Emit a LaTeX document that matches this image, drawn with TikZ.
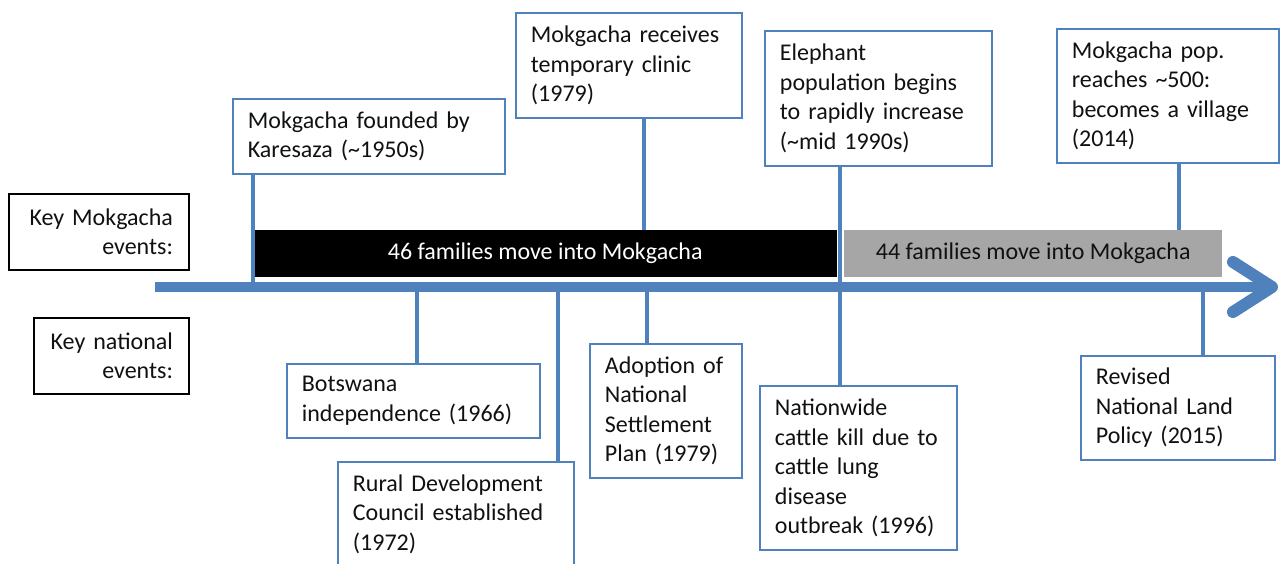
\documentclass[tikz,border=0pt]{standalone}
\usepackage{fontspec}
\setmainfont{Carlito}
\definecolor{axisblue}{HTML}{4F81BD}
\definecolor{bargray}{HTML}{A6A6A6}
\definecolor{txt}{HTML}{111111}
\begin{document}
\begin{tikzpicture}[x=1pt,y=-1pt,
  basefont/.style={font=\fontsize{24}{29.5}\selectfont, text=txt},
  evt/.style={basefont, draw=axisblue, line width=1.8pt, fill=white, inner xsep=15pt, inner ysep=2pt, align=left, anchor=north west},
  keybox/.style={basefont, draw=black, line width=1.8pt, fill=white, inner xsep=16pt, inner ysep=2pt, align=right, anchor=north west},
  conn/.style={draw=axisblue, line width=4pt},
  bar/.style={basefont, anchor=north west, inner sep=0pt, minimum height=47pt}
  ]
\useasboundingbox (0,0) rectangle (1280,564);

% axis end points
\coordinate (axL) at (155,287);
\coordinate (axR) at (1272,287);

% top event boxes
\node[evt, minimum width=272pt, minimum height=75pt, text width=242pt] (b1) at (232,98) {Mokgacha founded by\\Karesaza (\textasciitilde1950s)};
\node[evt, minimum width=226pt, minimum height=105pt, text width=196pt] (b2) at (515,12) {Mokgacha receives\\temporary clinic\\(1979)};
\node[evt, minimum width=227pt, minimum height=135pt, text width=197pt] (b3) at (764,30) {Elephant\\population begins\\to rapidly increase\\(\textasciitilde mid 1990s)};
\node[evt, minimum width=222pt, minimum height=134pt, text width=192pt] (b4) at (1056,28) {Mokgacha pop.\\reaches \textasciitilde500:\\becomes a village\\(2014)};

% bottom event boxes
\node[evt, minimum width=253pt, minimum height=74pt, text width=223pt] (n1) at (286,363) {Botswana\\independence (1966)};
\node[evt, minimum width=236pt, minimum height=104pt, text width=206pt] (n2) at (337,461) {Rural Development\\Council established\\(1972)};
\node[evt, minimum width=152pt, minimum height=134pt, text width=122pt] (n3) at (589,343) {Adoption of\\National\\Settlement\\Plan (1979)};
\node[evt, minimum width=197pt, minimum height=164pt, text width=167pt] (n4) at (759,385) {Nationwide\\cattle kill due to\\cattle lung\\disease\\outbreak (1996)};
\node[evt, minimum width=194pt, minimum height=104pt, text width=164pt] (n5) at (1080,355) {Revised\\National Land\\Policy (2015)};

% bars
\node[bar, fill=black, text=white, minimum width=584pt] (bar1) at (253,230) {46 families move into Mokgacha};
\node[bar, fill=bargray, minimum width=378pt] (bar2) at (844,230) {44 families move into Mokgacha};

% connectors
\draw[conn] ([xshift=21pt]b1.south west) -- ([xshift=21pt]b1.south west |- axL);
\draw[conn] ([xshift=129pt]b2.south west) -- ([xshift=129pt]b2.south west |- bar1.north);
\draw[conn] ([xshift=76pt]b3.south west) -- ([xshift=76pt]b3.south west |- n4.north);
\draw[conn] ([xshift=123pt]b4.south west) -- ([xshift=123pt]b4.south west |- bar2.north);
\draw[conn] ([xshift=131pt]n1.north west |- axL) -- ([xshift=131pt]n1.north west);
\draw[conn] ([xshift=221pt]n2.north west |- axL) -- ([xshift=221pt]n2.north west);
\draw[conn] ([xshift=58pt]n3.north west |- axL) -- ([xshift=58pt]n3.north west);
\draw[conn] ([xshift=123pt]n5.north west |- axL) -- ([xshift=123pt]n5.north west);

% axis with open chevron head
\draw[axisblue, line width=10pt] (axL) -- (axR);
\coordinate (hu) at (1233,262);
\coordinate (hd) at (1233,312);
\draw[axisblue, line width=12pt, line cap=round, line join=round] (hu) -- (axR) -- (hd);

% key labels
\node[keybox, minimum width=180pt, minimum height=76pt, text width=148pt] (k1) at (8,193) {Key Mokgacha\\events:};
\node[keybox, minimum width=155pt, minimum height=76pt, text width=123pt] (k2) at (33,317) {Key national\\events:};
\end{tikzpicture}
\end{document}
